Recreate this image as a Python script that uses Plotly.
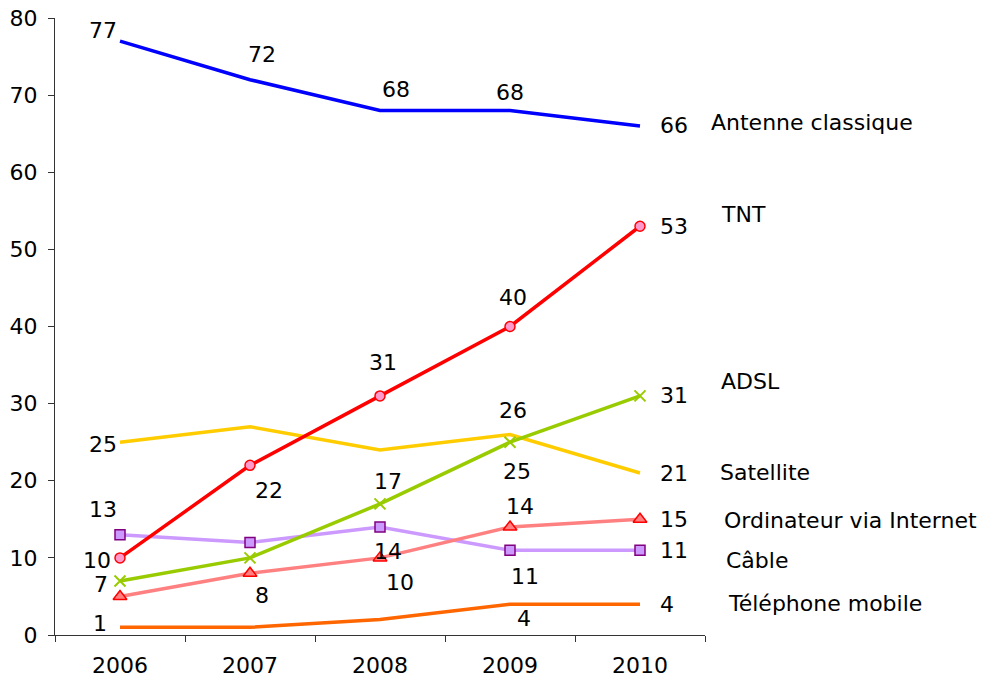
"""
Line chart: TV reception modes in France, 2006-2010 (share of households, %).
"""

import plotly.graph_objects as go

# ---- data -------------------------------------------------------------
years = ["2006", "2007", "2008", "2009", "2010"]

antenne = [77, 72, 68, 68, 66]
tnt = [10, 22, 31, 40, 53]
adsl = [7, 10, 17, 25, 31]
satellite = [25, 27, 24, 26, 21]
ordinateur = [5, 8, 10, 14, 15]
cable = [13, 12, 14, 11, 11]
mobile = [1, 1, 2, 4, 4]

# ---- styles -----------------------------------------------------------
FONT = "DejaVu Sans"
FS = 22
LW = 3.5
R = "right"  # label placed right of the last point

# label offsets in pixels (dx, dy up), None = no label
series = [
    # name, values, line colour, marker, offsets, name label (xshift, y)
    ("Antenne classique", antenne, "#0000FF", None,
     [(-17, 11), (12, 25), (16, 21), (0, 18), R], (69, 66.5)),
    ("Téléphone mobile", mobile, "#FF6600", None,
     [(-20, 4), None, None, (14, -14), R], (86, 4.1)),
    ("Câble", cable, "#CC99FF",
     dict(symbol="square", size=10, color="#CC99FF", line=dict(color="#800080", width=1.5)),
     [(-17, 25), None, (8, -24), (15, -26), R], (84, 9.6)),
    ("Satellite", satellite, "#FFCC00", None,
     [(-17, -2), None, None, (3, 24), R], (78, 21.1)),
    ("Ordinateur via Internet", ordinateur, "#FF8080",
     dict(symbol="triangle-up", size=12, color="#FF8080", line=dict(color="#FF0000", width=1.5)),
     [None, (12, -22), (20, -25), (10, 21), R], (82, 14.8)),
    ("ADSL", adsl, "#99CC00",
     dict(symbol="x-thin", size=11, color="#99CC00", line=dict(color="#99CC00", width=2)),
     [(-19, -3), None, (8, 22), (7, -29), R], (79, 32.9)),
    ("TNT", tnt, "#FF0000",
     dict(symbol="circle", size=10, color="#FF99CC", line=dict(color="#FF0000", width=1.5)),
     [(-23, -3), (19, -25), (3, 33), (3, 29), R], (79, 54.5)),
]

fig = go.Figure()
annotations = []

for name, values, color, marker, offsets, name_pos in series:
    fig.add_trace(
        go.Scatter(
            x=years,
            y=values,
            name=name,
            mode="lines+markers" if marker else "lines",
            line=dict(color=color, width=LW),
            marker=marker,
            showlegend=False,
        )
    )

    # value labels (category axis -> annotations use the category index)
    for i, (val, off) in enumerate(zip(values, offsets)):
        if off is None:
            continue
        if off == R:
            annotations.append(dict(
                x=i, y=val, text=str(val), showarrow=False,
                xanchor="left", yanchor="middle", xshift=18,
            ))
        else:
            annotations.append(dict(
                x=i, y=val, text=str(val), showarrow=False,
                xanchor="center", yanchor="middle",
                xshift=off[0], yshift=off[1],
            ))

    # series name on the right
    annotations.append(dict(
        x=len(years) - 1, y=name_pos[1], text=name, showarrow=False,
        xanchor="left", yanchor="middle", xshift=name_pos[0],
    ))

fig.update_layout(
    width=992,
    height=677,
    plot_bgcolor="white",
    paper_bgcolor="white",
    font=dict(family=FONT, size=FS, color="black"),
    margin=dict(l=55, r=287, t=18, b=42),
    annotations=annotations,
    xaxis=dict(
        type="category",
        range=[-0.5, 4.5],
        automargin=False,
        showgrid=False,
        zeroline=False,
        showline=True,
        linecolor="#333333",
        linewidth=1,
        ticks="outside",
        tickson="boundaries",
        ticklen=6,
        tickcolor="#333333",
        ticklabelstandoff=11,
    ),
    yaxis=dict(
        range=[0, 80],
        dtick=10,
        automargin=False,
        showgrid=False,
        zeroline=False,
        showline=True,
        linecolor="#333333",
        linewidth=1,
        ticks="outside",
        ticklen=6,
        tickcolor="#333333",
        ticklabelstandoff=6,
        ticklabeloverflow="allow",
    ),
)

# drop the browser's default 8px body margin so the figure fills the window
fig.write_html(
    "out.html",
    config={"displayModeBar": False},
    post_script="document.body.style.margin='0';document.body.style.overflow='hidden';",
)
